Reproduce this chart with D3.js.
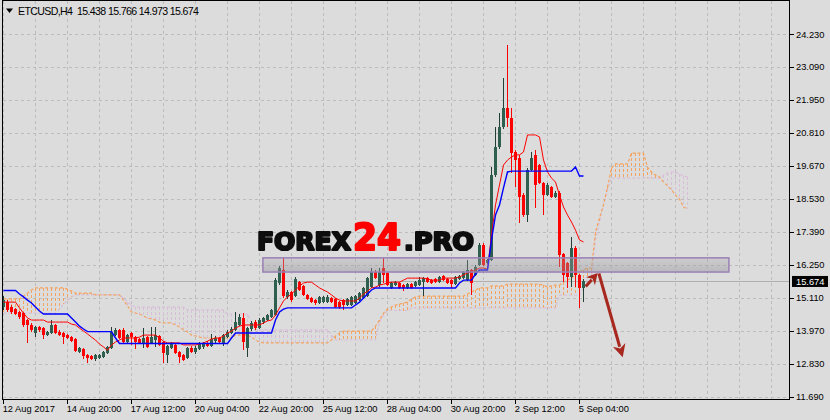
<!DOCTYPE html>
<html><head><meta charset="utf-8">
<script src="https://cdn.jsdelivr.net/npm/d3@7"></script>
<style>body{margin:0;background:#dcdcdc;}svg{display:block;}</style>
</head><body><svg id="c" width="830" height="420"></svg>
<script>
// ---------- DATA ----------
const symbol = "ETCUSD,H4";
const yTicks = [11.690,12.830,13.970,15.110,16.250,17.390,18.530,19.670,20.810,21.950,23.090,24.230];
const xTickBars = [0,16,32,48,64,80,96,112,128,144];
const xTickLabels = ["12 Aug 2017","14 Aug 20:00","17 Aug 12:00","20 Aug 04:00","22 Aug 20:00","25 Aug 12:00","28 Aug 04:00","30 Aug 20:00","2 Sep 12:00","5 Sep 04:00"];

const open = [14.79,14.96,14.79,14.72,14.62,14.58,14.34,14.17,13.89,14.10,
14.06,13.82,13.89,14.17,13.93,13.89,13.82,13.75,13.68,13.23,
13.34,13.13,13.10,12.99,13.03,13.06,13.20,13.37,13.82,14.00,
14.00,13.58,13.89,13.75,13.68,13.55,13.75,13.55,13.65,13.78,
13.58,13.13,13.37,13.48,13.23,13.13,13.03,13.37,13.23,13.34,
13.41,13.55,13.44,13.61,13.72,13.51,13.75,13.89,14.00,14.17,
14.41,13.37,14.03,14.27,14.06,14.27,14.34,14.44,14.51,15.62,
16.07,15.14,15.31,15.17,15.65,15.52,15.21,15.10,15.03,14.93,
14.96,14.96,15.10,15.07,14.96,15.03,14.86,14.86,14.93,15.03,
15.10,15.17,15.48,16.00,15.55,16.14,15.97,15.45,15.55,15.62,
15.55,15.45,15.58,15.52,15.55,15.65,15.79,15.72,15.76,15.65,
15.86,15.76,15.72,15.58,15.76,15.79,15.72,16.07,15.90,16.24,
16.93,16.31,16.42,19.35,20.32,21.01,21.67,21.33,20.15,19.94,
18.66,17.97,19.53,20.05,19.70,19.08,18.66,18.94,18.59,18.73,
16.62,16.31,15.83,16.83,15.90,15.438];
const high = [15.17,15.03,14.86,14.76,14.65,14.62,14.38,14.24,14.13,14.13,
14.10,13.96,14.34,14.20,14.00,13.93,13.86,13.78,13.72,13.41,
13.37,13.17,13.13,13.17,13.17,13.27,13.44,14.10,14.06,14.03,
14.06,13.86,13.93,13.78,13.72,14.06,13.78,14.10,14.10,13.82,
13.61,13.48,13.58,13.51,13.27,13.17,13.41,13.44,13.44,13.58,
13.58,13.61,13.86,13.78,13.75,13.86,14.00,14.10,14.62,14.55,
14.58,14.10,14.31,14.34,14.41,14.44,14.55,14.72,15.79,16.20,
16.49,15.38,15.35,15.83,15.69,15.55,15.24,15.14,15.07,15.17,
15.17,15.21,15.14,15.10,15.00,15.07,15.10,15.17,15.21,15.31,
15.48,15.83,16.14,16.07,16.14,16.49,16.00,15.65,15.69,15.65,
15.58,15.62,15.62,15.69,15.83,15.83,15.83,15.76,15.79,15.86,
15.90,15.79,15.76,15.86,15.90,16.04,16.42,16.10,16.24,17.00,
17.00,16.45,19.63,21.01,21.50,22.71,23.85,21.67,20.22,20.05,
18.73,19.60,20.15,20.22,19.74,19.11,19.08,18.98,18.80,18.80,
16.66,16.35,17.20,16.90,15.93,15.766];
const low = [14.69,14.62,14.55,14.51,14.38,14.10,13.55,13.93,13.75,13.93,
13.68,13.78,13.86,13.86,13.78,13.51,13.68,13.58,13.23,13.20,
12.99,12.85,12.96,12.92,12.99,13.03,13.17,13.34,13.78,13.68,
13.55,13.55,13.48,13.34,13.51,13.37,13.37,13.51,13.41,13.44,
12.85,12.85,13.34,13.17,12.85,12.92,12.99,13.20,13.17,13.30,
13.34,13.41,13.41,13.55,13.55,13.44,13.72,13.86,13.96,14.13,
13.30,13.06,13.96,14.00,14.03,14.20,14.31,14.41,14.48,15.55,
15.10,15.07,14.96,15.14,15.34,15.17,15.03,14.93,14.86,14.89,
14.93,14.93,14.93,14.76,14.72,14.69,14.82,14.82,14.89,15.00,
15.07,15.14,15.45,15.76,15.48,15.62,15.52,15.41,15.52,15.41,
15.35,15.41,15.41,15.48,15.52,15.17,15.62,15.58,15.62,15.62,
15.69,15.58,15.45,15.55,15.72,15.76,15.69,15.21,15.86,16.20,
16.20,16.28,16.38,19.28,20.25,20.95,21.01,19.42,18.94,17.69,
17.90,17.73,19.49,18.21,19.04,17.97,18.63,18.56,18.56,16.17,
15.65,15.45,15.48,15.48,14.76,14.973];
const close = [15.03,14.69,14.62,14.55,14.44,14.17,14.17,14.00,14.10,14.00,
13.82,13.93,14.17,13.89,13.82,13.75,13.72,13.61,13.27,13.37,
13.10,13.03,12.99,13.13,13.13,13.23,13.41,13.93,14.00,13.72,
13.58,13.82,13.75,13.58,13.55,13.72,13.41,13.75,13.82,13.48,
13.20,13.44,13.55,13.20,13.06,12.96,13.37,13.23,13.37,13.55,
13.55,13.44,13.68,13.72,13.58,13.82,13.93,14.03,14.27,14.44,
13.58,14.06,14.24,14.06,14.34,14.41,14.51,14.69,15.72,16.14,
15.17,15.31,15.03,15.76,15.38,15.21,15.07,14.96,14.93,15.14,
15.14,15.14,14.96,14.79,14.79,14.86,15.07,15.14,15.17,15.27,
15.45,15.79,16.00,15.79,16.00,15.90,15.55,15.62,15.65,15.45,
15.45,15.58,15.45,15.65,15.72,15.79,15.65,15.62,15.65,15.83,
15.72,15.62,15.58,15.83,15.86,16.00,16.07,15.62,16.17,16.93,
16.24,16.42,19.35,20.32,21.01,21.67,21.33,20.12,19.87,18.59,
17.97,19.53,19.94,19.01,19.08,18.66,19.01,18.59,18.73,16.59,
15.90,15.83,16.83,15.90,15.45,15.674];

const tenkan = [14.96,14.96,14.96,14.96,14.76,14.58,14.41,14.34,14.34,14.34,
14.34,14.27,14.27,14.27,14.27,14.27,14.27,14.20,14.17,14.06,
13.96,13.86,13.75,13.65,13.51,13.41,13.30,13.48,13.58,13.65,
13.72,13.72,13.72,13.72,13.75,13.82,13.82,13.82,13.82,13.72,
13.61,13.55,13.55,13.55,13.55,13.48,13.48,13.48,13.48,13.51,
13.55,13.61,13.68,13.72,13.72,13.79,13.89,13.96,14.06,14.13,
14.17,14.17,14.17,14.17,14.17,14.24,14.31,14.34,14.51,14.76,
15.00,15.14,15.24,15.38,15.52,15.62,15.65,15.65,15.55,15.45,
15.38,15.31,15.21,15.10,15.03,15.00,15.00,15.00,15.00,15.10,
15.24,15.34,15.45,15.48,15.55,15.58,15.62,15.65,15.65,15.65,
15.72,15.79,15.79,15.79,15.79,15.79,15.76,15.72,15.72,15.72,
15.79,15.79,15.79,15.79,15.83,15.90,15.97,16.00,16.07,16.14,
16.14,16.10,17.28,18.32,19.01,19.70,19.87,19.98,20.05,20.05,
20.15,20.74,20.74,20.74,20.67,19.87,19.46,19.25,19.11,18.66,
18.25,17.97,17.73,17.45,17.11,17.04];
const kijun = [15.36,15.36,15.36,15.36,15.24,15.14,15.03,14.93,14.79,14.65,
14.55,14.55,14.55,14.55,14.55,14.55,14.55,14.41,14.27,14.13,
14.03,13.94,13.94,13.94,13.94,13.94,13.94,13.94,13.72,13.53,
13.53,13.53,13.53,13.53,13.53,13.53,13.53,13.53,13.53,13.53,
13.53,13.53,13.53,13.53,13.53,13.53,13.53,13.53,13.53,13.53,
13.53,13.53,13.53,13.53,13.53,13.53,13.53,13.72,13.89,13.89,
13.89,13.89,13.89,13.89,13.89,13.89,13.89,13.89,14.34,14.62,
14.72,14.76,14.76,14.76,14.76,14.76,14.76,14.76,14.76,14.76,
14.76,14.76,14.76,14.76,14.76,14.76,14.76,14.76,14.86,14.96,
15.10,15.24,15.38,15.45,15.45,15.45,15.45,15.45,15.45,15.45,
15.45,15.45,15.45,15.45,15.45,15.45,15.45,15.45,15.45,15.45,
15.45,15.45,15.45,15.45,15.62,15.72,15.72,15.72,15.93,16.07,
16.07,16.07,17.11,17.97,18.32,18.91,19.46,19.49,19.49,19.49,
19.49,19.49,19.49,19.49,19.49,19.49,19.49,19.49,19.49,19.49,
19.49,19.49,19.49,19.63,19.32,19.32];
const senkouA = [15.07,15.07,15.07,15.07,15.07,15.17,15.27,15.38,15.45,15.45,
15.45,15.45,15.45,15.45,15.45,15.45,15.41,15.34,15.27,15.27,
15.27,15.27,15.27,15.21,15.21,15.21,15.21,15.21,15.21,15.21,
15.03,14.83,14.62,14.58,14.55,14.48,14.41,14.38,14.34,14.27,
14.24,14.24,14.24,14.17,14.10,14.00,13.93,13.82,13.79,13.75,
13.72,13.72,13.72,13.72,13.72,13.72,13.72,13.72,13.82,13.82,
13.82,13.82,13.75,13.65,13.58,13.55,13.55,13.55,13.55,13.55,
13.55,13.55,13.55,13.55,13.55,13.55,13.55,13.55,13.55,13.55,
13.55,13.55,13.65,13.79,13.89,13.96,13.96,13.96,13.96,13.96,
13.96,13.96,13.96,14.13,14.34,14.58,14.72,14.79,14.86,14.89,
14.93,14.96,15.07,15.14,15.17,15.17,15.17,15.17,15.17,15.17,
15.17,15.17,15.17,15.17,15.17,15.17,15.24,15.31,15.38,15.45,
15.45,15.45,15.52,15.52,15.52,15.52,15.58,15.58,15.58,15.58,
15.58,15.58,15.58,15.58,15.58,15.55,15.48,15.52,15.55,15.55,
15.65,15.72,15.79,15.90,16.00,16.07,16.14,16.14,17.38,17.87,
18.32,18.94,19.60,19.74,19.74,19.74,19.74,20.11,20.11,20.11,
20.11,19.63,19.46,19.35,19.29,19.11,18.98,18.84,18.66,18.52,
18.25,18.18];
const senkouB = [14.58,14.58,14.58,14.58,14.58,14.58,14.58,14.58,14.58,14.58,
14.58,14.58,14.58,14.58,14.72,14.89,15.03,15.14,15.21,15.21,
15.21,15.21,15.21,15.21,15.21,15.21,15.21,15.21,15.21,15.21,
15.10,14.96,14.86,14.79,14.79,14.79,14.79,14.79,14.79,14.79,
14.79,14.79,14.79,14.79,14.79,14.79,14.69,14.69,14.69,14.69,
14.69,14.69,14.69,14.69,14.69,14.69,14.55,14.55,14.55,14.55,
14.55,14.55,14.27,14.00,14.00,14.00,14.00,14.00,14.00,14.00,
14.00,14.00,14.00,14.00,14.00,14.00,14.00,14.00,14.00,14.00,
14.00,14.00,13.82,13.65,13.65,13.65,13.65,13.65,13.65,13.65,
13.65,13.65,13.65,13.65,14.27,14.51,14.67,14.67,14.67,14.67,
14.67,14.67,14.76,14.76,14.76,14.76,14.76,14.76,14.76,14.76,
14.76,14.76,14.76,14.76,14.76,14.76,14.76,14.76,14.76,14.76,
14.76,14.76,14.76,14.76,14.76,14.76,14.76,14.76,14.76,14.76,
14.76,14.76,14.76,14.76,14.76,14.76,14.76,14.76,14.76,15.20,
15.20,15.20,15.20,15.20,15.20,15.45,15.79,15.86,17.11,17.73,
18.32,18.84,19.25,19.25,19.25,19.25,19.25,19.25,19.25,19.25,
19.25,19.25,19.25,19.25,19.25,19.35,19.42,19.46,19.46,19.39,
19.32,19.29];

// annotation: resistance zone and forecast arrows (bar index, price)
const zoneBars = [64.9, 181.4];
const zonePrices = [16.00, 16.49];
const arrowSmall = [[145.6, 15.50], [148.6, 15.97]];
const arrowLong = [[148.9, 15.95], [154.85, 13.05]];

// ---------- DRAW ----------
const svg = d3.select("#c");
const x = d3.scaleLinear().domain([0, 100]).range([3.3, 403.3]);
const y = d3.scaleLinear().domain([11.69, 24.23]).range([396.7, 34]);
const cx = i => Math.round(x(i)) + 0.5;
const py = v => Math.round(y(v)) + 0.5;

svg.append("rect").attr("width", 830).attr("height", 420).attr("fill", "#dcdcdc");
const defs = svg.append("defs");
defs.append("clipPath").attr("id", "clip").append("rect")
  .attr("x", 3).attr("y", 1).attr("width", 786).attr("height", 398);
const blur = defs.append("filter").attr("id", "soft");
blur.append("feGaussianBlur").attr("stdDeviation", 0.5);
const grad = defs.append("linearGradient").attr("id", "zoneGrad").attr("x1", 0).attr("x2", 0).attr("y1", 0).attr("y2", 1);
grad.append("stop").attr("offset", "0%").attr("stop-color", "#a8a8ae").attr("stop-opacity", 0.3);
grad.append("stop").attr("offset", "100%").attr("stop-color", "#8e8e96").attr("stop-opacity", 0.45);

const g = svg.append("g").attr("clip-path", "url(#clip)");

// grid
g.append("g").attr("shape-rendering", "crispEdges").selectAll("line").data(yTicks).join("line")
  .attr("x1", 3).attr("x2", 789).attr("y1", d => py(d)).attr("y2", d => py(d))
  .attr("stroke", "#bcbcbc").attr("stroke-dasharray", "3,3");
g.append("g").attr("shape-rendering", "crispEdges").selectAll("line").data(d3.range(0, 197, 8)).join("line")
  .attr("x1", d => cx(d)).attr("x2", d => cx(d)).attr("y1", 1).attr("y2", 399)
  .attr("stroke", "#bcbcbc").attr("stroke-dasharray", "3,3");

// watermark
const wmG = svg.append("g").attr("filter", "url(#soft)");
[["FOREX", 256, 96, 25.5, "#0c0c0c"], ["24", 352, 50, 38, "#ff0000"], [".PRO", 403, 72, 25.5, "#0c0c0c"]].forEach(([t, x0, w, fs, c]) => {
  const tx = wmG.append("text").text(t).attr("x", 0).attr("y", 0)
    .attr("font-family", "DejaVu Sans").attr("font-weight", "bold").attr("font-size", fs)
    .attr("fill", c).attr("stroke", c).attr("stroke-width", 2.2).attr("stroke-linejoin", "round");
  const L = tx.node().getComputedTextLength();
  tx.attr("transform", `translate(${x0 + 1},250) scale(${(w - 2) / L},1)`);
});

// cloud hatch
const cloud = g.append("g").attr("shape-rendering", "crispEdges");
senkouA.forEach((a, i) => {
  const b = senkouB[i];
  if (Math.abs(a - b) < 0.005) return;
  cloud.append("line").attr("x1", cx(i)).attr("x2", cx(i))
    .attr("y1", Math.round(y(Math.max(a, b)))).attr("y2", Math.round(y(Math.min(a, b))))
    .attr("stroke", a > b ? "#f4a460" : "#d8bfd8").attr("stroke-dasharray", "3,2");
});
const line = d3.line().x((d, i) => cx(i)).y(d => y(d));
g.append("path").datum(senkouB).attr("d", line).attr("fill", "none").attr("stroke", "#d8bfd8").attr("stroke-width", 1.2).attr("stroke-dasharray", "3,2");
g.append("path").datum(senkouA).attr("d", line).attr("fill", "none").attr("stroke", "#f4a460").attr("stroke-width", 1.2).attr("stroke-dasharray", "3,2");

// current price line
const last = close.length - 1;
g.append("line").attr("x1", 3).attr("x2", 789).attr("y1", py(close[last])).attr("y2", py(close[last]))
  .attr("stroke", "#b0b0b0");

// candles
const cg = g.append("g").attr("shape-rendering", "crispEdges");
close.forEach((c, i) => {
  const o = open[i], up = c >= o;
  cg.append("line").attr("x1", cx(i)).attr("x2", cx(i)).attr("y1", y(high[i])).attr("y2", y(low[i]))
    .attr("stroke", up ? "#223f35" : "#ff0000");
  const top = y(Math.max(o, c)), bot = y(Math.min(o, c));
  cg.append("rect").attr("x", cx(i) - 1.5).attr("width", 3)
    .attr("y", Math.round(top)).attr("height", Math.max(1, Math.round(bot) - Math.round(top)))
    .attr("fill", up ? "#2f5f4e" : "#ff0000");
});

// tenkan & kijun
g.append("path").datum(tenkan).attr("d", line).attr("fill", "none").attr("stroke", "#ff0000").attr("stroke-width", 1);
g.append("path").datum(kijun).attr("d", line).attr("fill", "none").attr("stroke", "#0000ff").attr("stroke-width", 1.4);

// zone rectangle
g.append("rect").attr("x", x(zoneBars[0])).attr("y", y(zonePrices[1]))
  .attr("width", x(zoneBars[1]) - x(zoneBars[0])).attr("height", y(zonePrices[0]) - y(zonePrices[1]))
  .attr("fill", "url(#zoneGrad)").attr("stroke", "#9a80b6").attr("stroke-width", 1.5);

// arrows
function arrow(pts, w, hl, hw) {
  const [x0, y0] = [x(pts[0][0]), y(pts[0][1])], [x1, y1] = [x(pts[1][0]), y(pts[1][1])];
  const dx = x1 - x0, dy = y1 - y0, L = Math.hypot(dx, dy), ux = dx / L, uy = dy / L;
  const bx = x1 - ux * hl, by = y1 - uy * hl;
  g.append("line").attr("x1", x0).attr("y1", y0).attr("x2", bx + ux * 2).attr("y2", by + uy * 2)
    .attr("stroke", "#a8271f").attr("stroke-width", w);
  const nx = bx + ux * hl * 0.3, ny = by + uy * hl * 0.3;
  g.append("polygon").attr("points", [
    [x1, y1], [bx - uy * hw / 2, by + ux * hw / 2], [nx, ny], [bx + uy * hw / 2, by - ux * hw / 2]
  ].map(p => p.join(",")).join(" ")).attr("fill", "#a8271f");
}
arrow(arrowSmall, 3, 11, 12);
arrow(arrowLong, 3, 13, 13);

// frame & axes
svg.append("rect").attr("x", 2.5).attr("y", 0.5).attr("width", 787).attr("height", 399)
  .attr("fill", "none").attr("stroke", "#000");
const font = "Liberation Sans";
const ya = svg.append("g");
yTicks.forEach(v => {
  ya.append("line").attr("x1", 790).attr("x2", 794).attr("y1", py(v)).attr("y2", py(v)).attr("stroke", "#000");
  ya.append("text").attr("x", 796).attr("y", y(v) + 3.5).text(v.toFixed(3))
    .attr("font-family", font).attr("font-size", 9.3).attr("fill", "#000");
});
const xa = svg.append("g");
xTickBars.forEach((b, k) => {
  xa.append("line").attr("x1", cx(b)).attr("x2", cx(b)).attr("y1", 400).attr("y2", 404).attr("stroke", "#000");
  xa.append("text").attr("x", cx(b) - 0.8).attr("y", 412).text(xTickLabels[k])
    .attr("font-family", font).attr("font-size", 9.3).attr("fill", "#000");
});
// price label
svg.append("rect").attr("x", 792).attr("y", y(close[last]) - 5.5).attr("width", 36).attr("height", 11).attr("fill", "#000");
svg.append("text").attr("x", 796).attr("y", y(close[last]) + 3.5).text(close[last].toFixed(3))
  .attr("font-family", font).attr("font-size", 9.3).attr("fill", "#fff");

// header
svg.append("polygon").attr("points", "6,8.5 13,8.5 9.5,13").attr("fill", "#000");
svg.append("text").attr("x", 18).attr("y", 14.5).attr("xml:space", "preserve")
  .text(`${symbol}  ${open[last].toFixed(3)} ${high[last].toFixed(3)} ${low[last].toFixed(3)} ${close[last].toFixed(3)}`)
  .attr("font-family", font).attr("font-size", 10.6).attr("textLength", 181).attr("lengthAdjust", "spacing").attr("fill", "#000");
</script></body></html>
